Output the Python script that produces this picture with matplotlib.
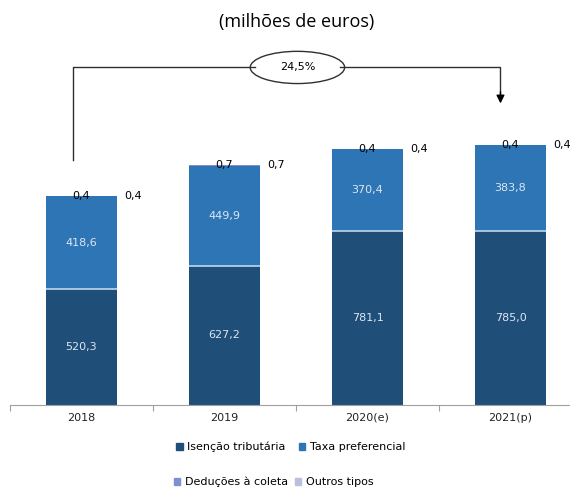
import matplotlib
matplotlib.use("Agg")
import matplotlib.pyplot as plt
from matplotlib.patches import Ellipse, Patch
import numpy as np

# Data (millions of euros)
anos = ["2018", "2019", "2020(e)", "2021(p)"]
isencao = [520.3, 627.2, 781.1, 785.0]
taxa_pref = [418.6, 449.9, 370.4, 383.8]
deducoes = [0.4, 0.7, 0.4, 0.4]
outros = [0.4, 0.7, 0.4, 0.4]
variacao = "24,5%"

c_isen = "#1f4e79"
c_taxa = "#2e75b6"
c_ded = "#7f8fcf"
c_out = "#b8c0dc"
c_sep = "#bdd7ee"

fig = plt.figure(figsize=(5.70, 4.91), dpi=100)
ax = fig.add_axes([10 / 570, 86 / 491, 572 / 570, 400 / 491])

x = np.arange(len(anos))
w = 0.5
fmt = lambda v: f"{v:.1f}".replace(".", ",")

b1 = np.array(isencao)
b2 = b1 + np.array(taxa_pref)
b3 = b2 + np.array(deducoes)
ax.bar(x, isencao, w, color=c_isen, edgecolor="none")
ax.bar(x, taxa_pref, w, bottom=b1, color=c_taxa, edgecolor="none")
ax.bar(x, deducoes, w, bottom=b2, color=c_ded, edgecolor="none")
ax.bar(x, outros, w, bottom=b3, color=c_out, edgecolor="none")
# thin light separator between the two main segments
ax.hlines(b1, x - w / 2, x + w / 2, colors=c_sep, linewidth=1.2)

for i in range(len(anos)):
    ax.text(x[i], isencao[i] / 2, fmt(isencao[i]), ha="center", va="center",
            color="#dce6f2", fontsize=8)
    ax.text(x[i], b1[i] + taxa_pref[i] / 2, fmt(taxa_pref[i]), ha="center",
            va="center", color="#dce6f2", fontsize=8)
    top = b3[i] + outros[i]
    ax.text(x[i], top, fmt(deducoes[i]), ha="center", va="center",
            color="black", fontsize=8)
    ax.text(x[i] + 0.36, top, fmt(outros[i]), ha="center", va="center",
            color="black", fontsize=8, clip_on=False)

ax.set_xlim(-0.5, 3.5)
ax.set_ylim(0, 1800)
for s in ["top", "right", "left"]:
    ax.spines[s].set_visible(False)
ax.spines["bottom"].set_color("#a0a0a0")
ax.set_yticks([])
ax.set_xticks(np.arange(-0.5, 4.0, 1.0), minor=False)
ax.set_xticklabels([])
ax.tick_params(axis="x", length=4, color="#a0a0a0", direction="out")
for i, lab in enumerate(anos):
    ax.text(x[i], -35, lab, ha="center", va="top", fontsize=8, color="#222222")

# growth bracket 2018 -> 2021
y_br = 1519
xl, xr = -0.06, 2.93
ax.plot([xl, xl, 1.21], [1101, y_br, y_br], color="#303030", lw=1, clip_on=False)
ax.plot([1.81, xr, xr], [y_br, y_br, 1400], color="#303030", lw=1, clip_on=False)
ax.annotate("", xy=(xr, 1357), xytext=(xr, 1410),
            arrowprops=dict(arrowstyle="-|>", color="black", lw=1,
                            mutation_scale=12, shrinkA=0, shrinkB=0))
ell = Ellipse((1.51, y_br), 0.66, 145, facecolor="white", edgecolor="#303030",
              lw=1, clip_on=False)
ax.add_patch(ell)
ax.text(1.51, y_br, variacao, ha="center", va="center", fontsize=8)

fig.text(0.52, 1 - 22 / 491, "(milhões de euros)", ha="center", va="center",
         fontsize=13, family="Open Sans")

h1 = [Patch(color=c_isen), Patch(color=c_taxa)]
h2 = [Patch(color=c_ded), Patch(color=c_out)]
kw = dict(frameon=False, fontsize=8, ncol=2, handlelength=0.6, handleheight=0.6,
          handletextpad=0.4, loc="center")
fig.legend(h1, ["Isenção tributária", "Taxa preferencial"],
           bbox_to_anchor=(0.51, 1 - 447 / 491), columnspacing=1.2, **kw)
fig.legend(h2, ["Deduções à coleta", "Outros tipos"],
           bbox_to_anchor=(0.48, 1 - 482 / 491), columnspacing=0.6, **kw)

fig.savefig("out.png", dpi=100)
